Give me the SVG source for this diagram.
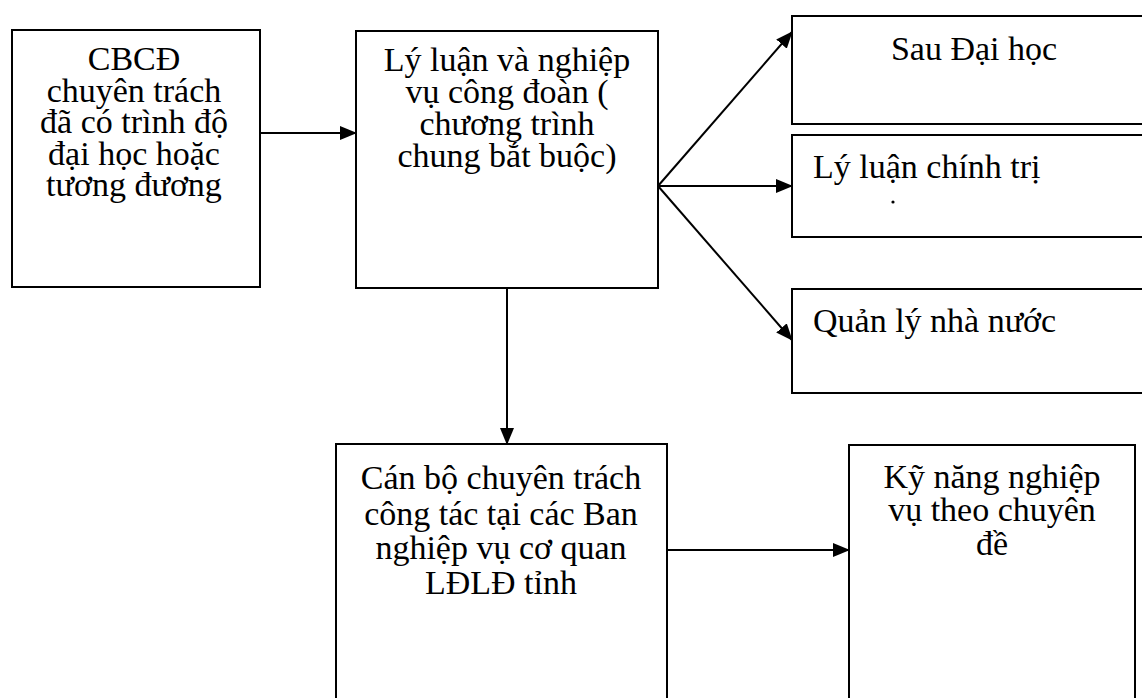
<svg xmlns="http://www.w3.org/2000/svg" width="1142" height="698" viewBox="0 0 1142 698">
<style>
.box{fill:#fff;stroke:#000;stroke-width:2}
.t{font-family:"Liberation Serif","Times New Roman",serif;font-size:34px;fill:#000}
.c{text-anchor:middle}
.ln{stroke:#000;stroke-width:2;fill:none}
</style>
<defs>
<marker id="ah" markerWidth="17" markerHeight="14" refX="16" refY="7" orient="auto" markerUnits="userSpaceOnUse">
<path d="M0,0 L17,7 L0,14 Z" fill="#000"/>
</marker>
</defs>
<rect width="1142" height="698" fill="#fff"/>
<g id="connectors">
<line class="ln" x1="260" y1="133" x2="356" y2="133" marker-end="url(#ah)"/>
<line class="ln" x1="658" y1="186" x2="792" y2="32" marker-end="url(#ah)"/>
<line class="ln" x1="658" y1="186" x2="792" y2="186" marker-end="url(#ah)"/>
<line class="ln" x1="658" y1="186" x2="792" y2="340" marker-end="url(#ah)"/>
<line class="ln" x1="507" y1="288" x2="507" y2="444" marker-end="url(#ah)"/>
<line class="ln" x1="667" y1="550" x2="849" y2="550" marker-end="url(#ah)"/>
</g>
<g id="n1">
<rect class="box" x="12" y="30" width="248" height="257"/>
<text class="t c"><tspan x="134" y="70">CBCĐ</tspan><tspan x="134" y="101.5">chuyên trách</tspan><tspan x="134" y="133">đã có trình độ</tspan><tspan x="134" y="164.5">đại học hoặc</tspan><tspan x="134" y="196">tương đương</tspan></text>
</g>
<g id="n2">
<rect class="box" x="356" y="31" width="302" height="257"/>
<text class="t c"><tspan x="507" y="71">Lý luận và nghiệp</tspan><tspan x="507" y="103">vụ công đoàn (</tspan><tspan x="507" y="135">chương trình</tspan><tspan x="507" y="167">chung bắt buộc)</tspan></text>
</g>
<g id="n3">
<rect class="box" x="792" y="16" width="360" height="108"/>
<text class="t c" x="974" y="60">Sau Đại học</text>
</g>
<g id="n4">
<rect class="box" x="792" y="135" width="360" height="102"/>
<text class="t" x="813" y="178">Lý luận chính trị</text>
<circle cx="893" cy="202" r="1.6" fill="#000"/>
</g>
<g id="n5">
<rect class="box" x="792" y="289" width="360" height="104"/>
<text class="t" x="813" y="332">Quản lý nhà nước</text>
</g>
<g id="n6">
<rect class="box" x="336" y="444" width="331" height="270"/>
<text class="t c"><tspan x="501" y="489">Cán bộ chuyên trách</tspan><tspan x="501" y="525">công tác tại các Ban</tspan><tspan x="501" y="559">nghiệp vụ cơ quan</tspan><tspan x="501" y="594">LĐLĐ tỉnh</tspan></text>
</g>
<g id="n7">
<rect class="box" x="849" y="445" width="286" height="270"/>
<text class="t c"><tspan x="992" y="488">Kỹ năng nghiệp</tspan><tspan x="992" y="521">vụ theo chuyên</tspan><tspan x="992" y="555">đề</tspan></text>
</g>
</svg>
